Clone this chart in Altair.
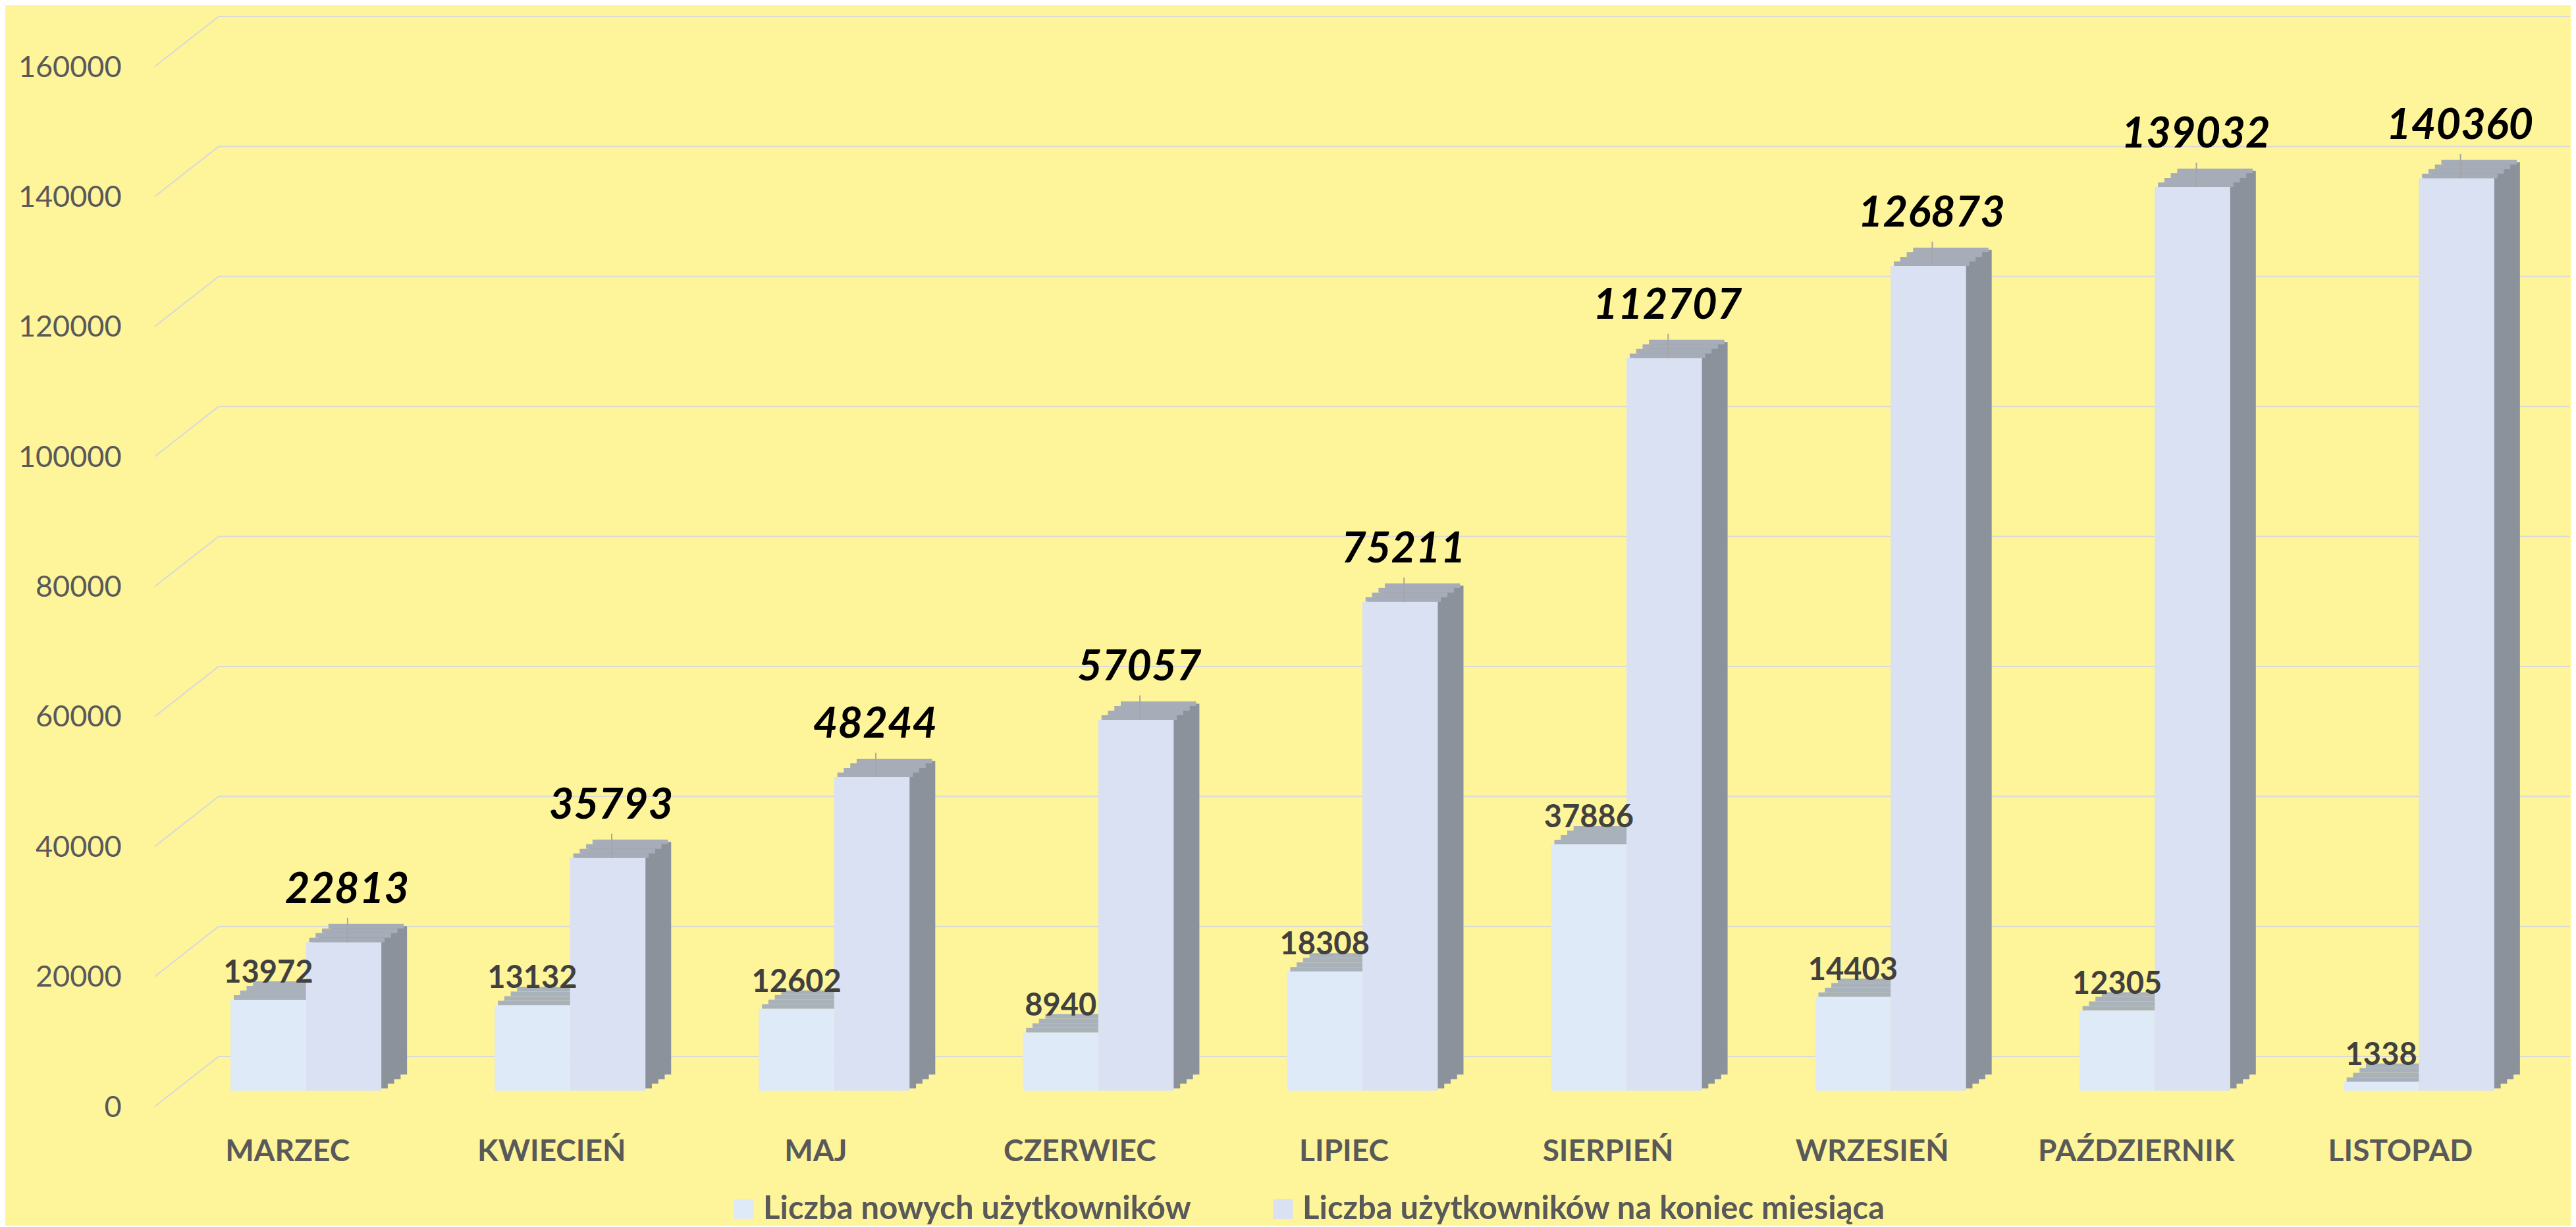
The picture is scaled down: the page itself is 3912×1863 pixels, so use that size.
import altair as alt
import pandas as pd

# ---- data ----
months = ["MARZEC", "KWIECIEŃ", "MAJ", "CZERWIEC", "LIPIEC", "SIERPIEŃ",
          "WRZESIEŃ", "PAŹDZIERNIK", "LISTOPAD"]
new_users = [13972, 13132, 12602, 8940, 18308, 37886, 14403, 12305, 1338]
total_users = [22813, 35793, 48244, 57057, 75211, 112707, 126873, 139032, 140360]
series_names = ["Liczba nowych użytkowników", "Liczba użytkowników na koniec miesiąca"]
y_ticks = [0, 20000, 40000, 60000, 80000, 100000, 120000, 140000, 160000]

dfA = pd.DataFrame({"month": months, "value": new_users, "series": series_names[0]})
dfB = pd.DataFrame({"month": months, "value": total_users, "series": series_names[1]})
ticks_df = pd.DataFrame({"tick": y_ticks})

# ---- geometry / style ----
W, H = 3668, 1579
BW = 114.5       # bar width (px)
DX, DY = 39, 28  # 3D depth (px)
NSTEP = 4        # steps used to approximate slanted faces
BG = "#FEF49A"
FONT = "Lato"

x_enc = alt.X("month:N", sort=months,
              scale=alt.Scale(paddingInner=0.429, paddingOuter=0.287),
              axis=alt.Axis(title=None, labelAngle=0, domain=False, ticks=False, grid=False,
                            labelFont=FONT, labelFontSize=46, labelFontWeight="bold",
                            labelColor="#595959", labelPadding=70, labelOffset=-28,
                            labelLimit=1000))
y_scale = alt.Scale(domain=[0, 160000], nice=False, zero=True)
y_axis = alt.Axis(title=None, values=y_ticks, format="d", grid=False, domain=False, ticks=False,
                  labelFont=FONT, labelFontSize=45, labelColor="#595959", labelPadding=51,
                  labelOffset=25, minExtent=227, maxExtent=227)
y_val = alt.Y("value:Q", scale=y_scale, axis=y_axis)
color_enc = alt.Color("series:N",
                      scale=alt.Scale(domain=series_names, range=["#DFEAF8", "#DAE1F2"]),
                      legend=alt.Legend(orient="none", legendX=870, legendY=1734,
                                        direction="horizontal", columns=2, title=None,
                                        symbolType="square", symbolSize=900, symbolStrokeWidth=0,
                                        labelFont=FONT, labelFontSize=49, labelFontWeight="bold",
                                        labelColor="#595959", columnPadding=115, labelOffset=5,
                                        padding=0, labelLimit=1200))

# gridlines on the back wall
grid_h = alt.Chart(ticks_df).mark_rule(color="#D9D9D9", strokeWidth=2, yOffset=-52).encode(
    y=alt.Y("tick:Q", scale=y_scale, axis=y_axis), x=alt.value(97), x2=alt.value(W))
grid_d = alt.Chart(ticks_df).mark_rule(color="#D9D9D9", strokeWidth=2, yOffset=24, y2Offset=-52).encode(
    y=alt.Y("tick:Q", scale=y_scale, axis=y_axis), y2="tick:Q", x=alt.value(0), x2=alt.value(97))


def side_faces(df, center, color):
    out = []
    for k in reversed(range(NSTEP)):
        off = -DY * (k + 0.5) / NSTEP
        out.append(alt.Chart(df).mark_bar(width=BW, xOffset=center + DX * (k + 1) / NSTEP,
                                          yOffset=off, y2Offset=off, color=color)
                   .encode(x=x_enc, y=y_val))
    return out


def top_faces(df, center, color):
    out = []
    for k in range(NSTEP):
        out.append(alt.Chart(df).mark_bar(width=BW, xOffset=center + DX * (k + 0.5) / NSTEP,
                                          yOffset=-DY * (k + 1) / NSTEP, y2Offset=-DY * k / NSTEP,
                                          color=color)
                   .encode(x=x_enc, y=y_val, y2="value:Q"))
    return out


# series A (new users)
a_top = top_faces(dfA, -BW / 2, "#A9B2BB")
a_front = alt.Chart(dfA).mark_bar(width=BW, xOffset=-BW / 2).encode(x=x_enc, y=y_val, color=color_enc)

# series B (total users)
b_side = side_faces(dfB, BW / 2, "#8C929C")
b_top = top_faces(dfB, BW / 2, "#A6ADB8")
b_front = alt.Chart(dfB).mark_bar(width=BW, xOffset=BW / 2).encode(x=x_enc, y=y_val, color=color_enc)

# labels
a_text = alt.Chart(dfA).mark_text(font=FONT, fontSize=47, fontWeight="bold", color="#404040",
                                  dx=-BW / 2, dy=-26, baseline="alphabetic", align="center").encode(
    x=x_enc, y=y_val, text=alt.Text("value:Q", format="d"))
b_lead = alt.Chart(dfB).mark_rule(color="#A6A6A6", strokeWidth=2, xOffset=BW / 2 + 6,
                                  yOffset=0, y2Offset=-37).encode(x=x_enc, y=y_val, y2="value:Q")
b_text = alt.Chart(dfB).mark_text(font=FONT, fontSize=65, fontWeight="bold", fontStyle="italic",
                                  color="#000000", dx=BW / 2 + 5, dy=-60, baseline="alphabetic",
                                  align="center").encode(
    x=x_enc, y=y_val, text=alt.Text("value:Q", format="d"))

layers = [grid_h, grid_d] + a_top + [a_front] + b_side + b_top + [b_front, a_text, b_lead, b_text]
chart = alt.layer(*layers).properties(
    width=W, height=H, padding={"left": 0, "top": 16, "right": 0, "bottom": 0}
).configure(background=BG).configure_view(strokeWidth=0)

chart.save("out.html", embed_options={"renderer": "svg", "actions": False})
